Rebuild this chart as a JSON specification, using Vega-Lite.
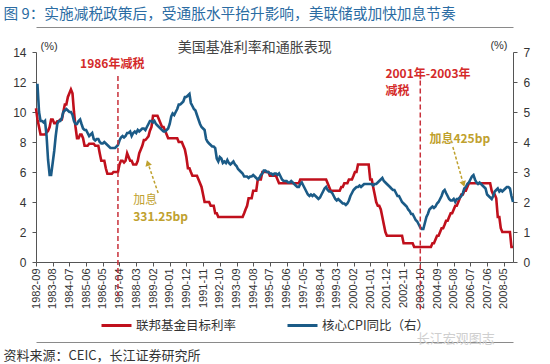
{
"$schema":"https://vega.github.io/schema/vega-lite/v6.json",
"width":477,"height":210,
"autosize":"none",
"padding":{"left":36,"top":52,"right":37,"bottom":102},
"background":"white",
"config":{"view":{"stroke":null},"font":"Liberation Sans","axis":{"labelFont":"Liberation Sans","labelColor":"#333","domainColor":"#555","tickColor":"#555","grid":false,"titleFont":"Liberation Sans","titleColor":"#333","titleFontWeight":"normal"}},
"data":{"format":{"parse":{"d":"date:'%Y-%m'"}},"values":[
{"d":"1982-09","f":10.25,"c":5.9},{"d":"1982-10","f":9.5,"c":5.9},{"d":"1982-11","f":9.0,"c":5.0},{"d":"1982-12","f":8.5,"c":4.7},
{"d":"1983-01","f":8.5,"c":4.7},{"d":"1983-02","f":8.5,"c":4.65},{"d":"1983-03","f":8.5,"c":4.7},{"d":"1983-04","f":8.63,"c":4.2},{"d":"1983-05","f":8.75,"c":3.4},{"d":"1983-06","f":9.0,"c":2.9},{"d":"1983-07","f":9.5,"c":2.9},{"d":"1983-08","f":9.5,"c":3.3},{"d":"1983-09","f":9.25,"c":3.7},{"d":"1983-10","f":9.25,"c":4.2},{"d":"1983-11","f":9.38,"c":4.6},{"d":"1983-12","f":9.38,"c":4.7},
{"d":"1984-01","f":9.5,"c":4.7},{"d":"1984-02","f":9.5,"c":4.8},{"d":"1984-03","f":10.0,"c":5.0},{"d":"1984-04","f":10.5,"c":5.05},{"d":"1984-05","f":10.5,"c":5.1},{"d":"1984-06","f":11.0,"c":5.05},{"d":"1984-07","f":11.25,"c":5.0},{"d":"1984-08","f":11.5,"c":5.0},{"d":"1984-09","f":11.25,"c":4.9},{"d":"1984-10","f":10.0,"c":4.7},{"d":"1984-11","f":9.0,"c":4.6},{"d":"1984-12","f":8.25,"c":4.6},
{"d":"1985-01","f":8.25,"c":4.7},{"d":"1985-02","f":8.5,"c":4.75},{"d":"1985-03","f":8.5,"c":4.6},{"d":"1985-04","f":8.25,"c":4.45},{"d":"1985-05","f":7.75,"c":4.4},{"d":"1985-06","f":7.75,"c":4.4},{"d":"1985-07","f":7.75,"c":4.3},{"d":"1985-08","f":7.88,"c":4.2},{"d":"1985-09","f":7.88,"c":4.25},{"d":"1985-10","f":7.88,"c":4.3},{"d":"1985-11","f":7.88,"c":4.1},{"d":"1985-12","f":7.75,"c":4.05},
{"d":"1986-01","f":7.75,"c":4.1},{"d":"1986-02","f":7.75,"c":4.1},{"d":"1986-03","f":7.25,"c":4.0},{"d":"1986-04","f":6.75,"c":3.95},{"d":"1986-05","f":6.75,"c":3.95},{"d":"1986-06","f":6.75,"c":4.0},{"d":"1986-07","f":6.25,"c":3.95},{"d":"1986-08","f":5.88,"c":3.9},{"d":"1986-09","f":5.88,"c":3.85},{"d":"1986-10","f":5.88,"c":3.8},{"d":"1986-11","f":5.88,"c":3.8},{"d":"1986-12","f":6.0,"c":3.8},
{"d":"1987-01","f":6.0,"c":3.8},{"d":"1987-02","f":6.0,"c":3.85},{"d":"1987-03","f":6.0,"c":3.9},{"d":"1987-04","f":6.5,"c":4.05},{"d":"1987-05","f":6.75,"c":4.15},{"d":"1987-06","f":6.75,"c":4.2},{"d":"1987-07","f":6.63,"c":4.15},{"d":"1987-08","f":6.75,"c":4.2},{"d":"1987-09","f":7.25,"c":4.3},{"d":"1987-10","f":7.0,"c":4.3},{"d":"1987-11","f":6.75,"c":4.35},{"d":"1987-12","f":6.75,"c":4.2},
{"d":"1988-01","f":6.5,"c":4.3},{"d":"1988-02","f":6.5,"c":4.35},{"d":"1988-03","f":6.5,"c":4.3},{"d":"1988-04","f":6.75,"c":4.4},{"d":"1988-05","f":7.25,"c":4.35},{"d":"1988-06","f":7.5,"c":4.4},{"d":"1988-07","f":7.75,"c":4.45},{"d":"1988-08","f":8.13,"c":4.45},{"d":"1988-09","f":8.13,"c":4.4},{"d":"1988-10","f":8.25,"c":4.5},{"d":"1988-11","f":8.38,"c":4.6},{"d":"1988-12","f":8.75,"c":4.7},
{"d":"1989-01","f":9.0,"c":4.7},{"d":"1989-02","f":9.75,"c":4.65},{"d":"1989-03","f":9.75,"c":4.7},{"d":"1989-04","f":9.75,"c":4.6},{"d":"1989-05","f":9.75,"c":4.55},{"d":"1989-06","f":9.5,"c":4.5},{"d":"1989-07","f":9.25,"c":4.45},{"d":"1989-08","f":9.0,"c":4.4},{"d":"1989-09","f":9.0,"c":4.35},{"d":"1989-10","f":8.75,"c":4.35},{"d":"1989-11","f":8.5,"c":4.4},{"d":"1989-12","f":8.25,"c":4.45},
{"d":"1990-01","f":8.25,"c":4.6},{"d":"1990-02","f":8.25,"c":4.85},{"d":"1990-03","f":8.25,"c":4.95},{"d":"1990-04","f":8.25,"c":4.9},{"d":"1990-05","f":8.25,"c":5.0},{"d":"1990-06","f":8.25,"c":5.1},{"d":"1990-07","f":8.0,"c":5.25},{"d":"1990-08","f":8.0,"c":5.25},{"d":"1990-09","f":8.0,"c":5.3},{"d":"1990-10","f":7.75,"c":5.35},{"d":"1990-11","f":7.5,"c":5.5},{"d":"1990-12","f":7.0,"c":5.5},
{"d":"1991-01","f":6.25,"c":5.55},{"d":"1991-02","f":6.25,"c":5.6},{"d":"1991-03","f":6.0,"c":5.3},{"d":"1991-04","f":5.75,"c":5.2},{"d":"1991-05","f":5.75,"c":5.1},{"d":"1991-06","f":5.75,"c":5.05},{"d":"1991-07","f":5.75,"c":4.9},{"d":"1991-08","f":5.5,"c":4.75},{"d":"1991-09","f":5.25,"c":4.6},{"d":"1991-10","f":5.0,"c":4.5},{"d":"1991-11","f":4.5,"c":4.45},{"d":"1991-12","f":4.0,"c":4.4},
{"d":"1992-01","f":4.0,"c":4.1},{"d":"1992-02","f":4.0,"c":4.0},{"d":"1992-03","f":4.0,"c":3.95},{"d":"1992-04","f":3.75,"c":3.9},{"d":"1992-05","f":3.75,"c":3.85},{"d":"1992-06","f":3.75,"c":3.85},{"d":"1992-07","f":3.25,"c":3.8},{"d":"1992-08","f":3.25,"c":3.45},{"d":"1992-09","f":3.0,"c":3.35},{"d":"1992-10","f":3.0,"c":3.5},{"d":"1992-11","f":3.0,"c":3.45},{"d":"1992-12","f":3.0,"c":3.3},
{"d":"1993-01","f":3.0,"c":3.35},{"d":"1993-02","f":3.0,"c":3.3},{"d":"1993-03","f":3.0,"c":3.4},{"d":"1993-04","f":3.0,"c":3.3},{"d":"1993-05","f":3.0,"c":3.25},{"d":"1993-06","f":3.0,"c":3.3},{"d":"1993-07","f":3.0,"c":3.35},{"d":"1993-08","f":3.0,"c":3.25},{"d":"1993-09","f":3.0,"c":3.2},{"d":"1993-10","f":3.0,"c":3.1},{"d":"1993-11","f":3.0,"c":3.05},{"d":"1993-12","f":3.0,"c":3.0},
{"d":"1994-01","f":3.0,"c":2.95},{"d":"1994-02","f":3.25,"c":2.85},{"d":"1994-03","f":3.5,"c":2.85},{"d":"1994-04","f":3.75,"c":2.85},{"d":"1994-05","f":4.25,"c":2.8},{"d":"1994-06","f":4.25,"c":2.85},{"d":"1994-07","f":4.25,"c":2.85},{"d":"1994-08","f":4.75,"c":2.9},{"d":"1994-09","f":4.75,"c":2.85},{"d":"1994-10","f":4.75,"c":2.8},{"d":"1994-11","f":5.5,"c":2.75},{"d":"1994-12","f":5.5,"c":2.8},
{"d":"1995-01","f":5.5,"c":2.9},{"d":"1995-02","f":6.0,"c":2.95},{"d":"1995-03","f":6.0,"c":3.05},{"d":"1995-04","f":6.0,"c":3.05},{"d":"1995-05","f":6.0,"c":3.0},{"d":"1995-06","f":6.0,"c":3.0},{"d":"1995-07","f":5.75,"c":2.95},{"d":"1995-08","f":5.75,"c":2.95},{"d":"1995-09","f":5.75,"c":2.9},{"d":"1995-10","f":5.75,"c":2.95},{"d":"1995-11","f":5.75,"c":2.95},{"d":"1995-12","f":5.5,"c":2.9},
{"d":"1996-01","f":5.25,"c":2.95},{"d":"1996-02","f":5.25,"c":2.85},{"d":"1996-03","f":5.25,"c":2.75},{"d":"1996-04","f":5.25,"c":2.7},{"d":"1996-05","f":5.25,"c":2.7},{"d":"1996-06","f":5.25,"c":2.7},{"d":"1996-07","f":5.25,"c":2.65},{"d":"1996-08","f":5.25,"c":2.65},{"d":"1996-09","f":5.25,"c":2.7},{"d":"1996-10","f":5.25,"c":2.65},{"d":"1996-11","f":5.25,"c":2.6},{"d":"1996-12","f":5.25,"c":2.55},
{"d":"1997-01","f":5.25,"c":2.5},{"d":"1997-02","f":5.25,"c":2.5},{"d":"1997-03","f":5.5,"c":2.6},{"d":"1997-04","f":5.5,"c":2.65},{"d":"1997-05","f":5.5,"c":2.55},{"d":"1997-06","f":5.5,"c":2.45},{"d":"1997-07","f":5.5,"c":2.35},{"d":"1997-08","f":5.5,"c":2.25},{"d":"1997-09","f":5.5,"c":2.2},{"d":"1997-10","f":5.5,"c":2.25},{"d":"1997-11","f":5.5,"c":2.2},{"d":"1997-12","f":5.5,"c":2.25},
{"d":"1998-01","f":5.5,"c":2.2},{"d":"1998-02","f":5.5,"c":2.15},{"d":"1998-03","f":5.5,"c":2.1},{"d":"1998-04","f":5.5,"c":2.15},{"d":"1998-05","f":5.5,"c":2.25},{"d":"1998-06","f":5.5,"c":2.35},{"d":"1998-07","f":5.5,"c":2.45},{"d":"1998-08","f":5.5,"c":2.5},{"d":"1998-09","f":5.25,"c":2.4},{"d":"1998-10","f":5.0,"c":2.35},{"d":"1998-11","f":4.75,"c":2.35},{"d":"1998-12","f":4.75,"c":2.3},
{"d":"1999-01","f":4.75,"c":2.2},{"d":"1999-02","f":4.75,"c":2.1},{"d":"1999-03","f":4.75,"c":2.05},{"d":"1999-04","f":4.75,"c":2.1},{"d":"1999-05","f":4.75,"c":2.05},{"d":"1999-06","f":5.0,"c":2.0},{"d":"1999-07","f":5.0,"c":1.95},{"d":"1999-08","f":5.25,"c":1.95},{"d":"1999-09","f":5.25,"c":1.9},{"d":"1999-10","f":5.25,"c":1.95},{"d":"1999-11","f":5.5,"c":2.05},{"d":"1999-12","f":5.5,"c":2.2},
{"d":"2000-01","f":5.5,"c":2.3},{"d":"2000-02","f":5.75,"c":2.4},{"d":"2000-03","f":6.0,"c":2.45},{"d":"2000-04","f":6.0,"c":2.5},{"d":"2000-05","f":6.5,"c":2.5},{"d":"2000-06","f":6.5,"c":2.55},{"d":"2000-07","f":6.5,"c":2.5},{"d":"2000-08","f":6.5,"c":2.55},{"d":"2000-09","f":6.5,"c":2.6},{"d":"2000-10","f":6.5,"c":2.6},{"d":"2000-11","f":6.5,"c":2.6},{"d":"2000-12","f":6.5,"c":2.6},
{"d":"2001-01","f":5.5,"c":2.6},{"d":"2001-02","f":5.5,"c":2.6},{"d":"2001-03","f":5.0,"c":2.55},{"d":"2001-04","f":4.5,"c":2.6},{"d":"2001-05","f":4.0,"c":2.6},{"d":"2001-06","f":3.75,"c":2.65},{"d":"2001-07","f":3.75,"c":2.7},{"d":"2001-08","f":3.5,"c":2.75},{"d":"2001-09","f":3.0,"c":2.8},{"d":"2001-10","f":2.5,"c":2.7},{"d":"2001-11","f":2.0,"c":2.65},{"d":"2001-12","f":1.75,"c":2.6},
{"d":"2002-01","f":1.75,"c":2.55},{"d":"2002-02","f":1.75,"c":2.5},{"d":"2002-03","f":1.75,"c":2.45},{"d":"2002-04","f":1.75,"c":2.4},{"d":"2002-05","f":1.75,"c":2.4},{"d":"2002-06","f":1.75,"c":2.3},{"d":"2002-07","f":1.75,"c":2.2},{"d":"2002-08","f":1.75,"c":2.2},{"d":"2002-09","f":1.75,"c":2.1},{"d":"2002-10","f":1.75,"c":2.0},{"d":"2002-11","f":1.25,"c":1.95},{"d":"2002-12","f":1.25,"c":1.9},
{"d":"2003-01","f":1.25,"c":1.85},{"d":"2003-02","f":1.25,"c":1.75},{"d":"2003-03","f":1.25,"c":1.7},{"d":"2003-04","f":1.25,"c":1.6},{"d":"2003-05","f":1.25,"c":1.6},{"d":"2003-06","f":1.0,"c":1.5},{"d":"2003-07","f":1.0,"c":1.4},{"d":"2003-08","f":1.0,"c":1.35},{"d":"2003-09","f":1.0,"c":1.25},{"d":"2003-10","f":1.0,"c":1.15},{"d":"2003-11","f":1.0,"c":1.1},{"d":"2003-12","f":1.0,"c":1.1},
{"d":"2004-01","f":1.0,"c":1.3},{"d":"2004-02","f":1.0,"c":1.5},{"d":"2004-03","f":1.0,"c":1.6},{"d":"2004-04","f":1.0,"c":1.75},{"d":"2004-05","f":1.0,"c":1.8},{"d":"2004-06","f":1.25,"c":1.85},{"d":"2004-07","f":1.25,"c":1.8},{"d":"2004-08","f":1.5,"c":1.85},{"d":"2004-09","f":1.75,"c":1.95},{"d":"2004-10","f":1.75,"c":2.0},{"d":"2004-11","f":2.0,"c":2.1},{"d":"2004-12","f":2.25,"c":2.2},
{"d":"2005-01","f":2.25,"c":2.35},{"d":"2005-02","f":2.5,"c":2.4},{"d":"2005-03","f":2.75,"c":2.3},{"d":"2005-04","f":2.75,"c":2.2},{"d":"2005-05","f":3.0,"c":2.1},{"d":"2005-06","f":3.25,"c":2.05},{"d":"2005-07","f":3.25,"c":2.05},{"d":"2005-08","f":3.5,"c":2.1},{"d":"2005-09","f":3.75,"c":2.0},{"d":"2005-10","f":3.75,"c":2.1},{"d":"2005-11","f":4.0,"c":2.1},{"d":"2005-12","f":4.25,"c":2.15},
{"d":"2006-01","f":4.5,"c":2.2},{"d":"2006-02","f":4.5,"c":2.3},{"d":"2006-03","f":4.75,"c":2.45},{"d":"2006-04","f":4.75,"c":2.5},{"d":"2006-05","f":5.0,"c":2.6},{"d":"2006-06","f":5.25,"c":2.65},{"d":"2006-07","f":5.25,"c":2.75},{"d":"2006-08","f":5.25,"c":2.85},{"d":"2006-09","f":5.25,"c":2.9},{"d":"2006-10","f":5.25,"c":2.75},{"d":"2006-11","f":5.25,"c":2.65},{"d":"2006-12","f":5.25,"c":2.6},
{"d":"2007-01","f":5.25,"c":2.65},{"d":"2007-02","f":5.25,"c":2.6},{"d":"2007-03","f":5.25,"c":2.55},{"d":"2007-04","f":5.25,"c":2.5},{"d":"2007-05","f":5.25,"c":2.45},{"d":"2007-06","f":5.25,"c":2.25},{"d":"2007-07","f":5.25,"c":2.2},{"d":"2007-08","f":5.25,"c":2.15},{"d":"2007-09","f":4.75,"c":2.1},{"d":"2007-10","f":4.5,"c":2.2},{"d":"2007-11","f":4.5,"c":2.35},{"d":"2007-12","f":4.25,"c":2.4},
{"d":"2008-01","f":3.0,"c":2.45},{"d":"2008-02","f":3.0,"c":2.35},{"d":"2008-03","f":2.25,"c":2.4},{"d":"2008-04","f":2.0,"c":2.35},{"d":"2008-05","f":2.0,"c":2.4},{"d":"2008-06","f":2.0,"c":2.45},{"d":"2008-07","f":2.0,"c":2.5},{"d":"2008-08","f":2.0,"c":2.5},{"d":"2008-09","f":2.0,"c":2.45},{"d":"2008-10","f":1.0,"c":2.2},{"d":"2008-11","f":1.0,"c":2.0}
]},
"layer":[
{"mark":{"type":"line","strokeWidth":2.6},
 "encoding":{
  "x":{"field":"d","type":"temporal","scale":{"domain":[{"year":1982,"month":9,"date":1},{"year":2008,"month":11,"date":1}]},
   "axis":{"orient":"bottom","format":"%Y-%m","values":[{"year":1982,"month":9},{"year":1983,"month":8},{"year":1984,"month":7},{"year":1985,"month":6},{"year":1986,"month":5},{"year":1987,"month":4},{"year":1988,"month":3},{"year":1989,"month":2},{"year":1990,"month":1},{"year":1990,"month":12},{"year":1991,"month":11},{"year":1992,"month":10},{"year":1993,"month":9},{"year":1994,"month":8},{"year":1995,"month":7},{"year":1996,"month":6},{"year":1997,"month":5},{"year":1998,"month":4},{"year":1999,"month":3},{"year":2000,"month":2},{"year":2001,"month":1},{"year":2001,"month":12},{"year":2002,"month":11},{"year":2003,"month":10},{"year":2004,"month":9},{"year":2005,"month":8},{"year":2006,"month":7},{"year":2007,"month":6},{"year":2008,"month":5}],
    "labelAngle":270,"labelFontSize":11,"labelPadding":2,"tickSize":4,"title":null,"labelOverlap":false,"labelFlush":false,"labelBound":false}},
  "y":{"field":"f","type":"quantitative","scale":{"domain":[0,14],"nice":false},
   "axis":{"orient":"left","values":[0,2,4,6,8,10,12,14],"labelFontSize":12,"labelPadding":6,"tickSize":4,"title":"(%)","titleAngle":0,"titleAlign":"left","titleBaseline":"middle","titleX":4,"titleY":-6,"titleFontSize":11}},
  "color":{"datum":"联邦基金目标利率","type":"nominal","scale":{"domain":["联邦基金目标利率","核心CPI同比（右）"],"range":["#c0101c","#1b5b87"]},
   "legend":{"orient":"none","legendX":64,"legendY":257,"direction":"horizontal","title":null,"symbolType":"stroke","symbolSize":900,"symbolStrokeWidth":3,"labelFont":"Noto Sans CJK SC","labelFontSize":12.5,"labelColor":"#333","columnPadding":44,"labelOffset":3}}}},
{"mark":{"type":"line","strokeWidth":2.6},
 "encoding":{
  "x":{"field":"d","type":"temporal","axis":null},
  "y":{"field":"c","type":"quantitative","scale":{"domain":[0,7],"nice":false},
   "axis":{"orient":"right","values":[0,1,2,3,4,5,6,7],"labelFontSize":12,"labelPadding":6,"tickSize":4,"title":"(%)","titleAngle":0,"titleAlign":"right","titleBaseline":"middle","titleX":-6,"titleY":-7,"titleFontSize":11}},
  "color":{"datum":"核心CPI同比（右）","type":"nominal"}}},
{"data":{"values":[{}]},
 "mark":{"type":"rule","strokeDash":[5,3],"strokeWidth":1.5,"color":"#c8303a"},
 "encoding":{
  "x":{"datum":{"year":1987,"month":3,"date":1},"type":"temporal",
   "axis":{"orient":"top","offset":25,"labels":false,"ticks":false,"domainColor":"#8a8a8a","title":"图 9：实施减税政策后，受通胀水平抬升影响，美联储或加快加息节奏","titleFont":"Noto Sans CJK SC","titleFontSize":14.7,"titleColor":"#2b6ca3","titleAlign":"left","titleBaseline":"alphabetic","titleX":-33,"titleY":-9}},
  "y":{"datum":12.4,"type":"quantitative","scale":{"domain":[0,14],"nice":false},"axis":null},
  "y2":{"datum":-2.3}}},
{"data":{"values":[{}]},
 "mark":{"type":"rule","strokeDash":[5,3],"strokeWidth":1.5,"color":"#c8303a"},
 "encoding":{
  "x":{"datum":{"year":2003,"month":10,"date":1},"type":"temporal",
   "axis":{"orient":"bottom","offset":80,"labels":false,"ticks":false,"domainColor":"#8a8a8a","title":"资料来源：CEIC，长江证券研究所","titleFont":"Noto Sans CJK SC","titleFontSize":13,"titleColor":"#333","titleAlign":"left","titleBaseline":"alphabetic","titleX":-33,"titleY":17}},
  "y":{"datum":12.1,"type":"quantitative","scale":{"domain":[0,14],"nice":false},"axis":null},
  "y2":{"datum":-3.2}}},
{"data":{"values":[{}]},
 "mark":{"type":"text","text":"美国基准利率和通胀表现","font":"Noto Sans CJK SC","fontSize":14,"color":"#444","align":"center","baseline":"middle"},
 "encoding":{"x":{"datum":{"year":1994,"month":9,"date":1},"type":"temporal","axis":null},"y":{"datum":14.3,"type":"quantitative","scale":{"domain":[0,14],"nice":false},"axis":null}}},
{"data":{"values":[{}]},
 "mark":{"type":"text","text":"1986年减税","font":"Noto Sans CJK SC","fontSize":12,"fontWeight":"bold","color":"#d42a2a","align":"left","baseline":"middle"},
 "encoding":{"x":{"datum":{"year":1985,"month":2,"date":1},"type":"temporal","axis":null},"y":{"datum":13.2,"type":"quantitative","scale":{"domain":[0,14],"nice":false},"axis":null}}},
{"data":{"values":[{}]},
 "mark":{"type":"text","text":"2001年-2003年","font":"Noto Sans CJK SC","fontSize":12,"fontWeight":"bold","color":"#d42a2a","align":"left","baseline":"middle"},
 "encoding":{"x":{"datum":{"year":2001,"month":11,"date":1},"type":"temporal","axis":null},"y":{"datum":12.53,"type":"quantitative","scale":{"domain":[0,14],"nice":false},"axis":null}}},
{"data":{"values":[{}]},
 "mark":{"type":"text","text":"减税","font":"Noto Sans CJK SC","fontSize":12,"fontWeight":"bold","color":"#d42a2a","align":"left","baseline":"middle"},
 "encoding":{"x":{"datum":{"year":2001,"month":11,"date":1},"type":"temporal","axis":null},"y":{"datum":11.4,"type":"quantitative","scale":{"domain":[0,14],"nice":false},"axis":null}}},
{"data":{"values":[{}]},
 "mark":{"type":"text","text":"加息","font":"Noto Sans CJK SC","fontSize":12,"color":"#bfa12e","align":"left","baseline":"middle"},
 "encoding":{"x":{"datum":{"year":1988,"month":1,"date":1},"type":"temporal","axis":null},"y":{"datum":4.15,"type":"quantitative","scale":{"domain":[0,14],"nice":false},"axis":null}}},
{"data":{"values":[{}]},
 "mark":{"type":"text","text":"331.25bp","font":"Noto Sans CJK SC","fontSize":12,"fontWeight":"bold","color":"#bfa12e","align":"left","baseline":"middle"},
 "encoding":{"x":{"datum":{"year":1988,"month":1,"date":1},"type":"temporal","axis":null},"y":{"datum":2.97,"type":"quantitative","scale":{"domain":[0,14],"nice":false},"axis":null}}},
{"data":{"values":[{}]},
 "mark":{"type":"text","text":"加息425bp","font":"Noto Sans CJK SC","fontSize":12,"fontWeight":"bold","color":"#bfa12e","align":"left","baseline":"middle"},
 "encoding":{"x":{"datum":{"year":2004,"month":4,"date":1},"type":"temporal","axis":null},"y":{"datum":8.2,"type":"quantitative","scale":{"domain":[0,14],"nice":false},"axis":null}}},
{"data":{"values":[{}]},
 "mark":{"type":"rule","strokeDash":[3,2],"strokeWidth":1.5,"color":"#bfa12e"},
 "encoding":{"x":{"datum":{"year":1989,"month":5,"date":15},"type":"temporal","axis":null},"x2":{"datum":{"year":1988,"month":11,"date":10}},
  "y":{"datum":4.6,"type":"quantitative","scale":{"domain":[0,14],"nice":false},"axis":null},"y2":{"datum":6.4}}},
{"data":{"values":[{}]},
 "mark":{"type":"point","shape":"triangle-up","filled":true,"size":45,"angle":-18,"color":"#bfa12e","opacity":1},
 "encoding":{"x":{"datum":{"year":1988,"month":10,"date":19},"type":"temporal","axis":null},"y":{"datum":6.6,"type":"quantitative","scale":{"domain":[0,14],"nice":false},"axis":null}}},
{"data":{"values":[{}]},
 "mark":{"type":"rule","strokeDash":[3,2],"strokeWidth":1.5,"color":"#bfa12e"},
 "encoding":{"x":{"datum":{"year":2005,"month":7,"date":15},"type":"temporal","axis":null},"x2":{"datum":{"year":2006,"month":1,"date":25}},
  "y":{"datum":7.67,"type":"quantitative","scale":{"domain":[0,14],"nice":false},"axis":null},"y2":{"datum":5.4}}},
{"data":{"values":[{}]},
 "mark":{"type":"point","shape":"triangle-down","filled":true,"size":45,"angle":-17,"color":"#bfa12e","opacity":1},
 "encoding":{"x":{"datum":{"year":2006,"month":2,"date":13},"type":"temporal","axis":null},"y":{"datum":5.2,"type":"quantitative","scale":{"domain":[0,14],"nice":false},"axis":null}}},
{"data":{"values":[{}]},
 "mark":{"type":"text","text":"长江宏观图志","font":"Noto Sans CJK SC","fontSize":13,"color":"#cfcfcf","align":"left","baseline":"middle"},
 "encoding":{"x":{"datum":{"year":2003,"month":7,"date":20},"type":"temporal","axis":null},"y":{"datum":-5.13,"type":"quantitative","scale":{"domain":[0,14],"nice":false},"axis":null}}}
],
"resolve":{"scale":{"y":"independent"},"axis":{"x":"independent"}}
}
